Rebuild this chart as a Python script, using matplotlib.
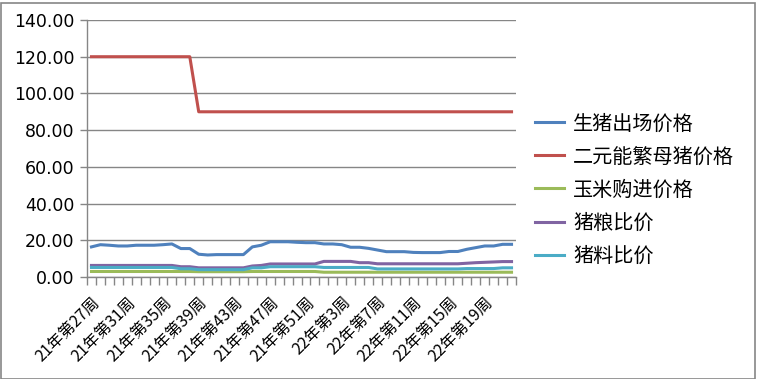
import matplotlib
matplotlib.use('Agg')
import matplotlib.pyplot as plt
from matplotlib.patches import Rectangle
import numpy as np

plt.rcParams['font.family'] = ['Noto Sans CJK SC', 'DejaVu Sans']

# week labels: 2021 weeks 27-52, 2022 weeks 1-22
weeks = ['21年第%d周' % w for w in range(27, 53)] + ['22年第%d周' % w for w in range(1, 23)]

hog_price = [16.4, 17.6, 17.3, 16.9, 16.9, 17.3, 17.3, 17.3, 17.6, 18.0,
             15.5, 15.5, 12.4, 12.0, 12.2, 12.2, 12.2, 12.2, 16.4, 17.3,
             19.2, 19.2, 19.2, 18.9, 18.7, 18.7, 18.0, 18.0, 17.6, 16.2,
             16.2, 15.6, 14.7, 13.8, 13.8, 13.8, 13.4, 13.3, 13.3, 13.3,
             13.9, 13.9, 15.1, 16.0, 16.9, 16.9, 17.8, 17.8]
sow_price = [120] * 12 + [90] * 36
corn_price = [3.0] * 12 + [2.9] * 6 + [3.0] * 8 + [2.6] * 22
hog_grain = [6.3] * 10 + [5.6] * 2 + [5.0] * 6 + [6.0, 6.3] + [7.1] * 6 \
    + [8.5] * 4 + [7.8] * 2 + [7.2] * 10 + [7.5, 7.8, 8.0, 8.2, 8.4, 8.4]
hog_feed = [5.2] * 10 + [4.5] * 2 + [4.0] * 6 + [5.0, 5.0] + [5.6] * 6 \
    + [5.2] * 6 + [4.4] * 10 + [4.6] * 4 + [5.0, 5.0]

series = [
    ('生猪出场价格', hog_price, '#4F81BD'),
    ('二元能繁母猪价格', sow_price, '#C0504D'),
    ('玉米购进价格', corn_price, '#9BBB59'),
    ('猪粮比价', hog_grain, '#8064A2'),
    ('猪料比价', hog_feed, '#4BACC6'),
]

fig = plt.figure(figsize=(7.57, 3.79), dpi=100)
ax = fig.add_axes([87/757, 1-277/379, (516-87)/757, (277-20)/379])

x = np.arange(len(weeks))
for name, vals, col in series:
    ax.plot(x, vals, color=col, linewidth=2.2, label=name)

grid_col = '#868686'
ax.set_ylim(0, 140)
ax.set_yticks(range(0, 141, 20))
ax.set_yticklabels(['%.2f' % v for v in range(0, 141, 20)],
                   family='DejaVu Sans', fontsize=12.5)
ax.yaxis.grid(True, color=grid_col, linewidth=1.0)
ax.set_axisbelow(True)

ax.set_xlim(-0.5, len(weeks) - 0.5)
ax.set_xticks(x[::4])
ax.set_xticklabels(weeks[::4], rotation=45, ha='right', rotation_mode='anchor',
                   fontsize=11.5)
ax.set_xticks(np.arange(-0.5, len(weeks), 1), minor=True)
ax.tick_params(axis='x', which='major', length=0, pad=12)
ax.tick_params(axis='x', which='minor', length=6, color=grid_col, width=1)
ax.tick_params(axis='y', length=5, color=grid_col, width=1, pad=4)

for s in ['top', 'right']:
    ax.spines[s].set_visible(False)
for s in ['left', 'bottom']:
    ax.spines[s].set_color(grid_col)
    ax.spines[s].set_linewidth(1.0)

fig.legend(loc='center left', bbox_to_anchor=(535/757, 1-190/379), frameon=False,
           borderpad=0, borderaxespad=0, handlelength=1.45, handletextpad=0.45,
           labelspacing=0.6, fontsize=14.5)

fig.patches.append(Rectangle((0.5/757, 0.5/379), 1-3/757, 1-3/379, transform=fig.transFigure,
                             fill=False, edgecolor=grid_col, linewidth=1.2))

fig.savefig('out.png', dpi=100)
